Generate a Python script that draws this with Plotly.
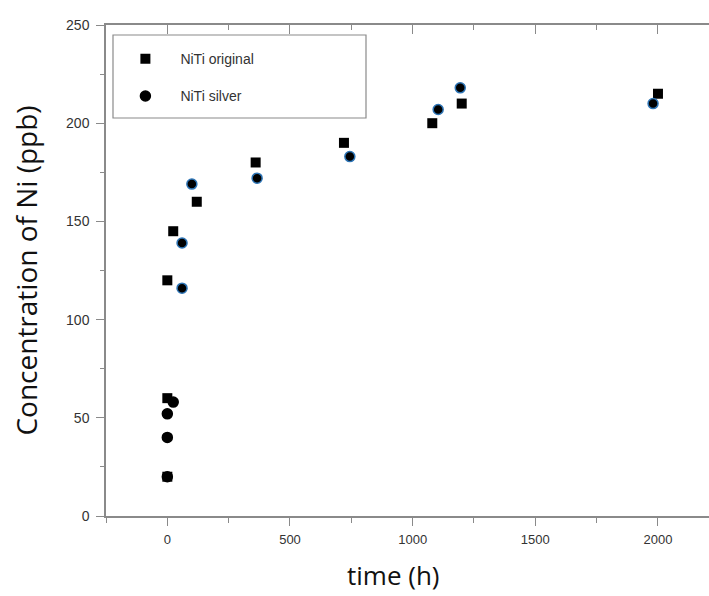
import plotly.graph_objects as go

# NiTi original (squares)
orig_time = [0, 0, 0, 24, 120, 360, 720, 1080, 1200, 2000]
orig_ni = [20, 60, 120, 145, 160, 180, 190, 200, 210, 215]

# NiTi silver (circles)
silver_time = [0, 0, 0, 24, 60, 60, 100, 366, 744, 1104, 1194, 1980]
silver_ni = [20, 40, 52, 58, 116, 139, 169, 172, 183, 207, 218, 210]

x_ticks = [0, 500, 1000, 1500, 2000]
y_ticks = [0, 50, 100, 150, 200, 250]

AX = "#8a8a8a"
TXT = "#333333"
silver_outline = ["#000000" if v < 100 else "#2e75b6" for v in silver_ni]

fig = go.Figure()
fig.add_trace(go.Scatter(
    x=orig_time, y=orig_ni, mode="markers", name="NiTi original",
    legendgroup="a",
    marker=dict(symbol="square", size=10, color="black", line=dict(width=0)),
))
fig.add_trace(go.Scatter(
    x=silver_time, y=silver_ni, mode="markers", name="NiTi silver",
    legendgroup="b",
    marker=dict(symbol="circle", size=10, color="black",
                line=dict(width=1.5, color=silver_outline)),
))
# invisible trace to host the top axis
fig.add_trace(go.Scatter(x=[None], y=[None], xaxis="x2", showlegend=False,
                         hoverinfo="skip"))

xr = [-250, 2208]
L, T, W, H = 106, 25, 603, 491
fig.update_layout(
    width=709, height=596,
    margin=dict(l=L, r=709 - L - W, t=T, b=596 - T - H),
    paper_bgcolor="white", plot_bgcolor="white",
    font=dict(family="Arial, Liberation Sans", size=13, color=TXT),
    xaxis=dict(
        range=xr, tickvals=x_ticks, showgrid=False, zeroline=False,
        showline=True, linecolor=AX, linewidth=1.5, automargin=False,
        ticks="outside", ticklen=8, tickwidth=1.2, tickcolor=AX,
        minor=dict(ticks="outside", ticklen=5, dtick=250, tickcolor=AX, tickwidth=1.2, showgrid=False),
        tickfont=dict(size=13, color=TXT), ticklabelstandoff=3,
    ),
    xaxis2=dict(
        range=xr, overlaying="x", side="top", showgrid=False, zeroline=False,
        showline=True, linecolor=AX, linewidth=1.5, showticklabels=False,
        automargin=False,
        tickvals=x_ticks, ticks="inside", ticklen=9, tickwidth=1.2, tickcolor=AX,
        minor=dict(ticks="inside", ticklen=5, dtick=250, tickcolor=AX, tickwidth=1.2, showgrid=False),
    ),
    yaxis=dict(
        range=[0, 250], tickvals=y_ticks, showgrid=False, zeroline=False,
        showline=True, linecolor=AX, linewidth=1.5, automargin=False,
        ticks="outside", ticklen=8, tickwidth=1.2, tickcolor=AX,
        minor=dict(ticks="outside", ticklen=4, dtick=25, tickcolor=AX, tickwidth=1.2, showgrid=False),
        tickfont=dict(size=14, color=TXT), ticklabelstandoff=4,
        title=dict(text="Concentration of Ni (ppb)", standoff=20,
                   font=dict(family="Open Sans, Noto Sans", size=28, color="#111111")),
    ),
    annotations=[dict(
        text="time (h)", xref="paper", yref="paper",
        x=(393 - L) / W, y=(T + H - 595) / H, xanchor="center", yanchor="bottom",
        showarrow=False,
        font=dict(family="Open Sans, Noto Sans", size=26, color="#111111"),
    )],
    legend=dict(
        x=0.0073, y=0.963, xanchor="left", yanchor="top",
        bgcolor="rgba(0,0,0,0)", borderwidth=0,
        font=dict(family="Arial, Liberation Sans", size=14, color=TXT),
        itemwidth=60, traceorder="grouped", tracegroupgap=16,
    ),
    shapes=[dict(type="rect", xref="paper", yref="paper",
                 x0=(113 - L) / W, x1=(366 - L) / W,
                 y0=(T + H - 118) / H, y1=(T + H - 35) / H,
                 line=dict(color=AX, width=1.2), fillcolor="rgba(0,0,0,0)",
                 layer="below")],
    showlegend=True,
)
fig.write_html(
    "out.html",
    config={"displayModeBar": False},
    post_script="document.body.style.margin='0';document.body.style.overflow='hidden';",
)
